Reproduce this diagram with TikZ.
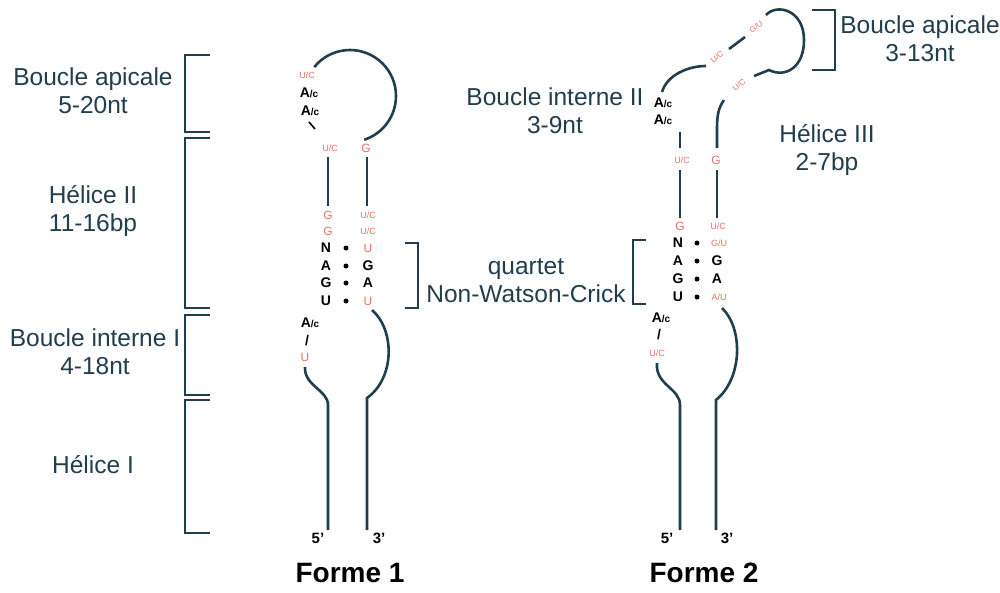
\documentclass[tikz,border=0pt]{standalone}
\usepackage{fontspec}
\setmainfont{Liberation Sans}
\definecolor{lc}{RGB}{32,62,75}
\definecolor{rc}{RGB}{228,112,102}
\tikzset{
  ln/.style={line width=2.6pt, draw=lc},
  brk/.style={line width=2.6pt, draw=lc},
  reg/.style={text=lc, font=\fontsize{24.5}{28}\selectfont, align=center, inner sep=0pt},
  nt/.style={font=\bfseries\fontsize{14}{14}\selectfont, inner sep=0pt},
  rd/.style={text=rc, font=\fontsize{9}{9}\selectfont, inner sep=0pt},
  rdr/.style={text=rc, font=\fontsize{8}{8}\selectfont, inner sep=0pt, rotate=38},
  rdl/.style={text=rc, font=\fontsize{12}{12}\selectfont, inner sep=0pt},
  nd/.style={circle, fill=black, inner sep=0pt, minimum size=5pt},
  endl/.style={font=\bfseries\fontsize{15}{15}\selectfont, inner sep=0pt},
  ttl/.style={font=\bfseries\fontsize{28}{28}\selectfont, inner sep=0pt},
}
\newcommand{\Ac}{A{\fontsize{10}{10}\selectfont/c}}
\begin{document}
\begin{tikzpicture}[x=1pt,y=-1pt]
\useasboundingbox (0,0) rectangle (1000,592);

% ---------- left region labels and brackets ----------
\node[reg] (lba) at (93,91) {Boucle apicale\\5-20nt};
\node[reg] (lh2) at (93,211) {Hélice II\\11-16bp};
\node[reg] (lbi) at (95,352) {Boucle interne I\\4-18nt};
\node[reg] (lh1) at (93,465) {Hélice I};
\coordinate (b1t) at (210,55);  \coordinate (b1b) at (210,132);
\coordinate (b2t) at (210,138); \coordinate (b2b) at (210,308);
\coordinate (b3t) at (210,315); \coordinate (b3b) at (210,395);
\coordinate (b4t) at (210,400); \coordinate (b4b) at (210,533);
\draw[brk] (b1t) -- (185,55) -- (185,132) -- (b1b);
\draw[brk] (b2t) -- (185,138) -- (185,308) -- (b2b);
\draw[brk] (b3t) -- (185,315) -- (185,395) -- (b3b);
\draw[brk] (b4t) -- (185,400) -- (185,533) -- (b4b);

% ---------- Forme 1 ----------
\node[rd] (f1a) at (307,75) {U/C};
\node[nt] (f1b) at (309,93) {\Ac};
\node[nt] (f1c) at (310,111) {\Ac};
\draw[line width=1.6pt] (309,122) -- (315,129);
\draw[ln] (350,96) ++(-141:46) arc[start angle=-141, end angle=72, radius=46];
\node[rd] (f1d) at (330,148) {U/C};
\node[rdl] (f1e) at (366,148) {G};
\draw[ln] (328,157) -- (328,206);
\draw[ln] (367,157) -- (367,206);
\node[rdl] (f1g1) at (328,215) {G};
\node[rdl] (f1g2) at (328,231) {G};
\node[rd] (f1u1) at (368,215) {U/C};
\node[rd] (f1u2) at (368,231) {U/C};
\node[nt] (f1n) at (326,248) {N};
\node[nt] (f1na) at (326,266) {A};
\node[nt] (f1ng) at (326,283) {G};
\node[nt] (f1nu) at (326,301) {U};
\node[nd] (f1d1) at (346,248) {};
\node[nd] (f1d2) at (346,266) {};
\node[nd] (f1d3) at (346,283) {};
\node[nd] (f1d4) at (346,301) {};
\node[rdl] (f1r1) at (368,248) {U};
\node[nt] (f1r2) at (368,266) {G};
\node[nt] (f1r3) at (368,283) {A};
\node[rdl] (f1r4) at (368,301) {U};
\node[nt] (f1ac) at (310,323) {\Ac};
\node[nt] (f1sl) at (307,341) {/};
\node[rdl] (f1u) at (305,357) {U};
\draw[ln] (305,367) .. controls (304,386) and (328,390) .. (328,405) -- (328,530);
\draw[ln] (372,310) .. controls (395,330) and (395,378) .. (367,398) -- (367,530);
\node[endl] (f15) at (318,538) {5'};
\node[endl] (f13) at (379,538) {3'};
\node[ttl] (f1t) at (350,573) {Forme 1};

% ---------- quartet ----------
\draw[brk] (405,243) -- (418,243) -- (418,308) -- (405,308);
\node[reg] (qt) at (526,281) {quartet\\Non-Watson-Crick};
\draw[brk] (646,240) -- (633,240) -- (633,304) -- (646,304);

% ---------- Forme 2 ----------
\node[reg] (lbi2) at (555,111) {Boucle interne II\\3-9nt};
\node[nt] (f2a1) at (663,103) {\Ac};
\node[nt] (f2a2) at (663,120) {\Ac};
\draw[ln] (662,92) .. controls (667,75) and (688,66) .. (706,66);
\node[rdr] (f2h1) at (717,57) {U/C};
\draw[ln] (729,49) -- (745,37);
\node[rdr] (f2h2) at (756,27) {G/U};
\draw[ln] (766,15) .. controls (777,3) and (804,10) .. (804,40)
          .. controls (804,68) and (785,78) .. (769,70) -- (754,76);
\node[rdr] (f2h3) at (739,85) {U/C};
\draw[ln] (717,148) -- (717,128) .. controls (717,114) and (719,107) .. (724,100);
\draw[ln] (680,132) -- (680,148);
\node[rd] (f2c1) at (682,160) {U/C};
\node[rdl] (f2c2) at (716,160) {G};
\draw[ln] (680,170) -- (680,218);
\draw[ln] (717,170) -- (717,218);
\node[rdl] (f2g) at (680,226) {G};
\node[rd] (f2u) at (718,226) {U/C};
\node[nt] (f2n) at (678,243) {N};
\node[nt] (f2na) at (678,261) {A};
\node[nt] (f2ng) at (678,279) {G};
\node[nt] (f2nu) at (678,297) {U};
\node[nd] (f2d1) at (697,243) {};
\node[nd] (f2d2) at (697,261) {};
\node[nd] (f2d3) at (697,279) {};
\node[nd] (f2d4) at (697,297) {};
\node[rd] (f2r1) at (719,243) {G/U};
\node[nt] (f2r2) at (717,261) {G};
\node[nt] (f2r3) at (717,279) {A};
\node[rd] (f2r4) at (719,297) {A/U};
\node[nt] (f2ac) at (661,318) {\Ac};
\node[nt] (f2sl) at (659,335) {/};
\node[rd] (f2uc) at (657,353) {U/C};
\draw[ln] (657,363) .. controls (655,385) and (680,388) .. (680,405) -- (680,530);
\draw[ln] (722,308) .. controls (743,328) and (743,378) .. (716,400) -- (716,530);
\node[endl] (f25) at (667,538) {5'};
\node[endl] (f23) at (727,538) {3'};
\node[ttl] (f2t) at (704,573) {Forme 2};

\draw[brk] (812,10) -- (835,10) -- (835,70) -- (812,70);
\node[reg] (lba2) at (920,39) {Boucle apicale\\3-13nt};
\node[reg] (lh3) at (827,150) {Hélice III\\2-7bp};
\end{tikzpicture}
\end{document}
